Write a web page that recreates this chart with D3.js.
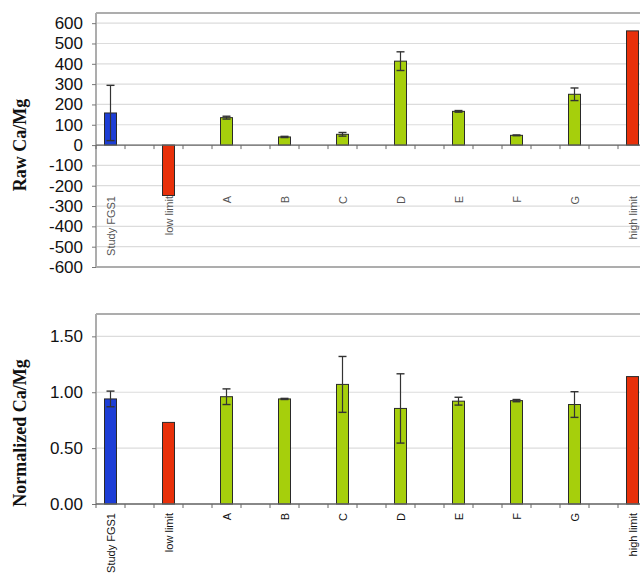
<!DOCTYPE html>
<html><head><meta charset="utf-8">
<script src="https://cdn.jsdelivr.net/npm/d3@7"></script>
<style>body{margin:0;background:#fff}svg{display:block}</style>
</head><body>
<svg id="c" width="640" height="579"></svg>
<script>
const categories = ["Study FGS1","low limit","A","B","C","D","E","F","G","high limit"];
const kinds = ["study","limit","sample","sample","sample","sample","sample","sample","sample","limit"];
const rawValues = [158,-248,135,40,53,413,166,48,250,562];
const rawErrors = [136,0,7,3,9,46,4,2,31,0];
const normValues = [0.94,0.73,0.96,0.94,1.07,0.855,0.92,0.925,0.89,1.14];
const normErrors = [0.07,0,0.07,0.005,0.25,0.31,0.035,0.01,0.115,0];
const rawTicks = [600,500,400,300,200,100,0,-100,-200,-300,-400,-500,-600];
const normTicks = [0,0.5,1.0,1.5];

const colors = {study:"#1d3ed6", limit:"#e8300a", sample:"#a6cf0c"};
const svg = d3.select("#c");
const left = 96, right = 676;
const x = d3.scaleBand().domain(categories).range([left,right]).padding(0);
const step = x.step();
const barW = 12;
const cx = c => x(c) + step/4;

function panel(opts){
  const {top,bottom,domain,values,errors,ticks,fmt,title,titleY,labelY,labelColor,frameBottom} = opts;
  const y = d3.scaleLinear().domain(domain).range([bottom,top]);
  const g = svg.append("g");
  g.selectAll("line.grid").data(ticks).join("line")
    .attr("x1",left).attr("x2",640).attr("y1",d=>y(d)).attr("y2",d=>y(d))
    .attr("stroke","#dcdcdc").attr("stroke-width",1.2);
  g.append("line").attr("x1",left).attr("x2",640).attr("y1",top).attr("y2",top).attr("stroke","#adadad").attr("stroke-width",2);
  if(frameBottom) g.append("line").attr("x1",left).attr("x2",640).attr("y1",bottom).attr("y2",bottom).attr("stroke","#adadad").attr("stroke-width",2);
  g.append("line").attr("x1",left).attr("x2",left).attr("y1",top).attr("y2",bottom).attr("stroke","#adadad").attr("stroke-width",2);
  const ya = d3.axisLeft(y).tickValues(ticks).tickFormat(fmt).tickSize(4).tickPadding(9);
  const yg = g.append("g").attr("transform",`translate(${left},0)`).call(ya);
  yg.select(".domain").remove();
  yg.selectAll(".tick line").attr("stroke","#777");
  yg.selectAll("text").attr("font-family","Liberation Sans, Arial, sans-serif").attr("font-size",17).attr("fill","#111");
  const data = categories.map((c,i)=>({c,k:kinds[i],v:values[i],e:errors[i]}));
  const y0 = y(0);
  g.selectAll("rect.bar").data(data).join("rect")
    .attr("x",d=>cx(d.c)-barW/2).attr("width",barW)
    .attr("y",d=>Math.min(y(d.v),y0)).attr("height",d=>Math.abs(y(d.v)-y0))
    .attr("fill",d=>colors[d.k]).attr("stroke","#2a2a2a").attr("stroke-width",1);
  const eb = data.filter(d=>d.e>0);
  g.selectAll("line.ev").data(eb).join("line")
    .attr("x1",d=>cx(d.c)).attr("x2",d=>cx(d.c))
    .attr("y1",d=>y(d.v+d.e)).attr("y2",d=>y(d.v-d.e))
    .attr("stroke","#333").attr("stroke-width",1.2);
  ["+","-"].forEach(s=>{
    g.selectAll("line.cap"+(s==="+"?"p":"m")).data(eb).join("line")
      .attr("x1",d=>cx(d.c)-4).attr("x2",d=>cx(d.c)+4)
      .attr("y1",d=>y(s==="+"?d.v+d.e:d.v-d.e)).attr("y2",d=>y(s==="+"?d.v+d.e:d.v-d.e))
      .attr("stroke","#333").attr("stroke-width",1.4);
  });
  g.append("line").attr("x1",left).attr("x2",640).attr("y1",y0).attr("y2",y0).attr("stroke","#666").attr("stroke-width",1.3);
  const tickPos = [];
  categories.forEach(c=>{tickPos.push(x(c)); tickPos.push(x(c)+step/2);});
  g.selectAll("line.xt").data(tickPos).join("line")
    .attr("x1",d=>d).attr("x2",d=>d).attr("y1",y0).attr("y2",y0+4)
    .attr("stroke","#666").attr("stroke-width",1);
  g.selectAll("text.cl").data(categories).join("text")
    .attr("transform",c=>`translate(${cx(c)+4},${labelY}) rotate(-90)`)
    .attr("text-anchor","end")
    .attr("font-family","Liberation Sans, Arial, sans-serif").attr("font-size",11)
    .attr("fill",labelColor).text(c=>c);
  g.append("text").attr("transform",`translate(26,${titleY}) rotate(-90)`)
    .attr("text-anchor","middle")
    .attr("font-family","Liberation Serif, Times New Roman, serif").attr("font-weight","bold").attr("font-size",18)
    .attr("fill","#111").text(title);
}

panel({top:13,bottom:267,domain:[-600,650],values:rawValues,errors:rawErrors,ticks:rawTicks,
  fmt:d=>String(d),title:"Raw Ca/Mg",titleY:145,labelY:196,labelColor:"#555",frameBottom:true});
panel({top:314,bottom:504,domain:[0,1.7],values:normValues,errors:normErrors,ticks:normTicks,
  fmt:d3.format(".2f"),title:"Normalized Ca/Mg",titleY:433,labelY:513,labelColor:"#111",frameBottom:false});
</script>
</body></html>
